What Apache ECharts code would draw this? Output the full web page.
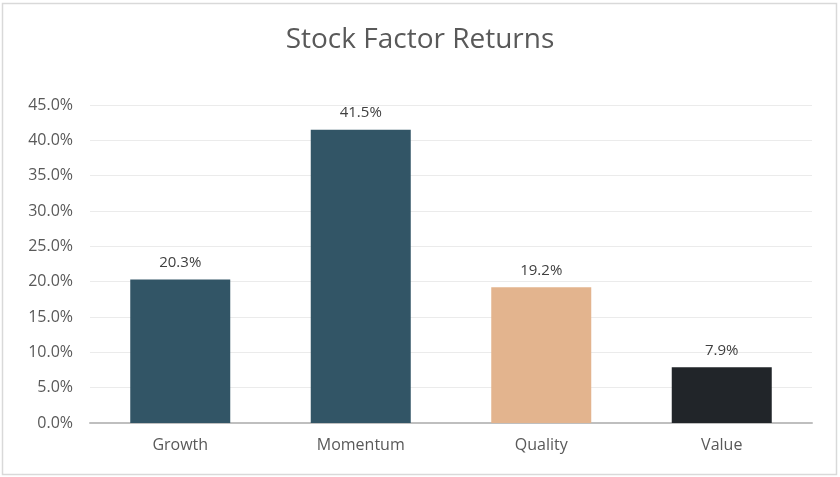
<!DOCTYPE html>
<html>
<head>
<meta charset="utf-8">
<script src="https://cdn.jsdelivr.net/npm/echarts@6/dist/echarts.min.js"></script>
<style>html,body{margin:0;padding:0;background:#fff}#c{width:840px;height:477px}</style>
</head>
<body>
<div id="c"></div>
<script>
const categories = ['Growth', 'Momentum', 'Quality', 'Value'];
const returns = [20.3, 41.5, 19.2, 7.9];
const barColors = ['#325566', '#325566', '#E3B48E', '#212529'];
const yTicks = [0, 5, 10, 15, 20, 25, 30, 35, 40, 45];

const chart = echarts.init(document.getElementById('c'));
chart.setOption({
  backgroundColor: '#fff',
  animation: false,
  graphic: [{
    type: 'rect', shape: { x: 2.5, y: 3.5, width: 834, height: 471 },
    style: { fill: 'none', stroke: '#D9D9D9', lineWidth: 1.5 }, silent: true
  }],
  title: {
    text: 'Stock Factor Returns', left: 'center', top: 21,
    textStyle: { fontFamily: 'Open Sans', fontWeight: 'normal', fontSize: 28, color: '#595959' }
  },
  grid: { left: 90, right: 28, top: 105, bottom: 54 },
  xAxis: {
    type: 'category', data: categories,
    axisLine: { lineStyle: { color: '#BFBFBF', width: 2 } },
    axisTick: { show: false },
    axisLabel: { color: '#595959', fontSize: 16, fontFamily: 'Open Sans', margin: 14 }
  },
  yAxis: {
    type: 'value', min: yTicks[0], max: yTicks[yTicks.length - 1], interval: 5,
    axisLine: { show: false }, axisTick: { show: false },
    splitLine: { lineStyle: { color: '#EBEBEB', width: 1 } },
    axisLabel: { color: '#595959', fontSize: 16, fontFamily: 'Open Sans', margin: 17,
      formatter: v => v.toFixed(1) + '%' }
  },
  series: [{
    type: 'bar', barWidth: 100,
    data: returns.map((v, i) => ({ value: v, itemStyle: { color: barColors[i] } })),
    label: { show: true, position: 'top', distance: 9, color: '#404040', fontSize: 15,
      fontFamily: 'Open Sans', formatter: p => p.value.toFixed(1) + '%' }
  }]
});
</script>
</body>
</html>
